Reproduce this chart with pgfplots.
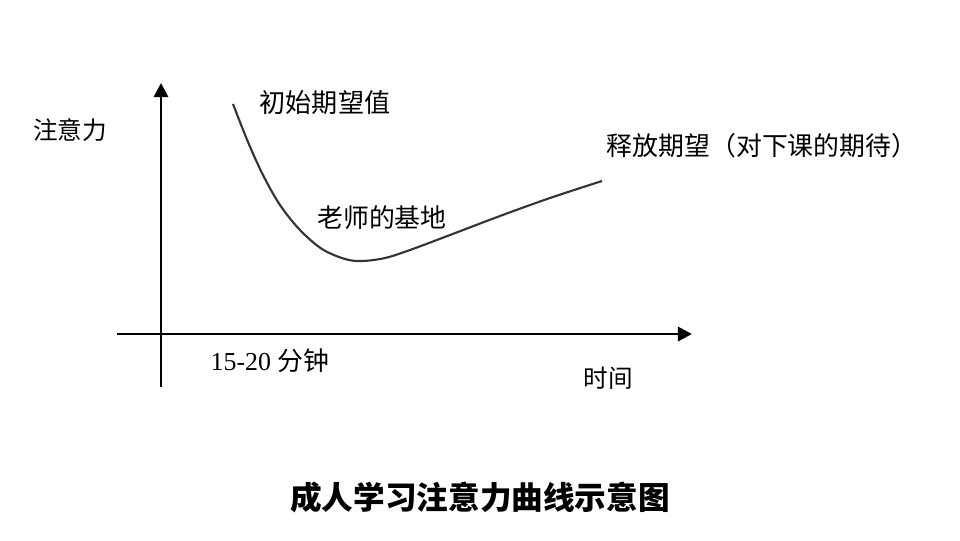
\documentclass[border=0pt]{standalone}
\usepackage{pgfplots}
\pgfplotsset{compat=1.18}
\usepackage{fontspec}
\setmainfont{Liberation Serif}
\newfontfamily\cjk{Noto Sans CJK SC}
\usetikzlibrary{arrows.meta}
\begin{document}
\begin{tikzpicture}
\begin{axis}[
  scale only axis, width=24cm, height=13.5cm,
  xmin=0, xmax=960, ymin=0, ymax=540, y dir=reverse,
  hide axis, clip=false]
\path (rel axis cs:0,0) rectangle (rel axis cs:1,1);
% axes
\addplot[black, line width=2.1pt, -{Triangle[length=10pt,width=10pt]}] coordinates {(161,387) (161,83)};
\addplot[black, line width=2.1pt, -{Triangle[length=10pt,width=10pt]}] coordinates {(117,334) (692,334)};
% curve
\addplot[black!80, line width=1.5pt, smooth, tension=0.55] coordinates {
 (233,104) (248,142) (263,175) (280,205) (300,230) (322,249) (345,259)
 (362,261) (385,258) (410,250) (450,235) (500,216) (550,198) (602,181)};
% labels
\node[font=\cjk\fontsize{17.5pt}{20pt}\selectfont] at (axis cs:70,130) {注意力};
\node[font=\cjk\fontsize{18.6pt}{21pt}\selectfont] at (axis cs:325,103) {初始期望值};
\node[font=\cjk\fontsize{18.4pt}{21pt}\selectfont] at (axis cs:382,218) {老师的基地};
\node[font=\cjk\fontsize{18.4pt}{21pt}\selectfont] at (axis cs:762,146) {释放期望（对下课的期待）};
\node[font=\fontsize{18.4pt}{21pt}\selectfont] at (axis cs:270,361) {15-20 {\cjk 分钟}};
\node[font=\cjk\fontsize{17.5pt}{20pt}\selectfont] at (axis cs:608,378) {时间};
\node[font=\cjk\bfseries\fontsize{22.5pt}{25pt}\selectfont] at (axis cs:480,497) {成人学习注意力曲线示意图};
\end{axis}
\end{tikzpicture}
\end{document}
